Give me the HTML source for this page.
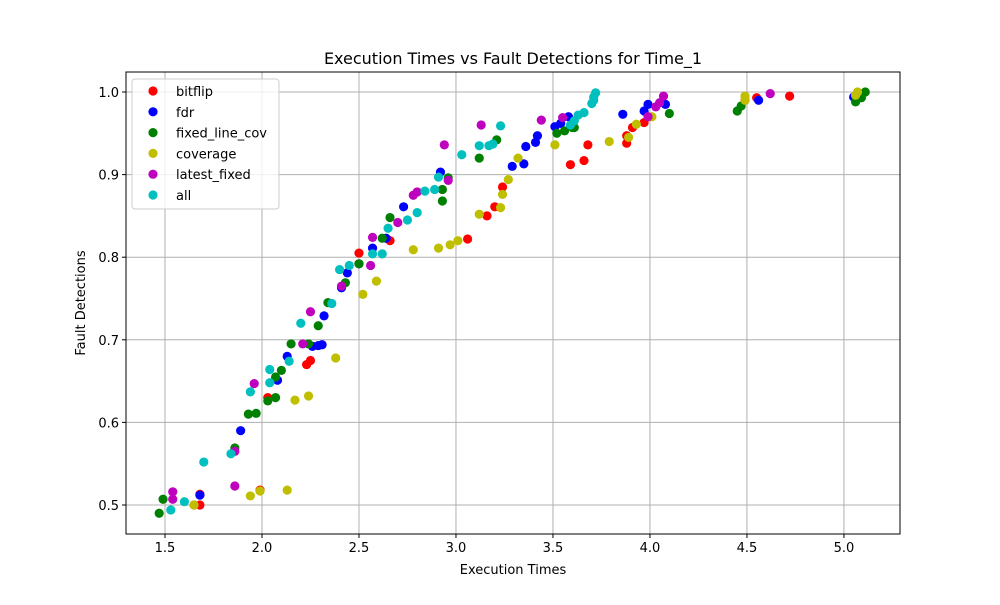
<!DOCTYPE html>
<html><head><meta charset="utf-8"><style>
body{margin:0;background:#fff;font-family:"Liberation Sans","DejaVu Sans",sans-serif;}
</style></head><body>
<svg id="chart" width="1000" height="600" viewBox="0 0 1000 600" xmlns="http://www.w3.org/2000/svg" font-family="DejaVu Sans, Liberation Sans, sans-serif">
<rect width="1000" height="600" fill="#fff"/>
<g id="grid"></g><g id="marks"></g><g id="axes"></g><g id="legend"></g>
</svg>
<script>
const xTicks=[1.5,2.0,2.5,3.0,3.5,4.0,4.5,5.0];
const yTicks=[0.5,0.6,0.7,0.8,0.9,1.0];
const seriesNames=["bitflip","fdr","fixed_line_cov","coverage","latest_fixed","all"];
const seriesColors=["#ff0000","#0000ff","#008000","#bfbf00","#bf00bf","#00bfbf"];
const bitflipX=[1.65,1.68,1.68,1.99,2.03,2.23,2.25,2.5,2.66,3.06,3.2,3.24,3.16,3.59,3.66,3.68,3.88,3.88,3.91,3.97,4.55,4.72,4.49];
const bitflipY=[0.5,0.5,0.513,0.518,0.63,0.67,0.675,0.805,0.82,0.822,0.861,0.885,0.85,0.912,0.917,0.936,0.938,0.947,0.957,0.963,0.993,0.995,0.99];
const fdrX=[1.68,1.89,2.08,2.13,2.26,2.29,2.31,2.32,2.41,2.44,2.57,2.64,2.73,2.92,3.29,3.35,3.36,3.41,3.42,3.51,3.54,3.58,3.86,3.97,3.99,4.08,4.56,5.05,2.5];
const fdrY=[0.512,0.59,0.651,0.68,0.692,0.693,0.694,0.729,0.763,0.781,0.811,0.823,0.861,0.903,0.91,0.913,0.934,0.939,0.947,0.958,0.962,0.97,0.973,0.977,0.985,0.985,0.99,0.994,0.792];
const fixedX=[1.47,1.49,1.86,1.93,1.97,2.03,2.07,2.07,2.1,2.15,2.24,2.29,2.34,2.43,2.5,2.62,2.66,2.93,2.93,2.96,3.12,3.21,3.52,3.56,3.6,3.61,4.1,4.45,4.47,5.06,5.09,5.11];
const fixedY=[0.49,0.507,0.569,0.61,0.611,0.626,0.63,0.655,0.663,0.695,0.695,0.717,0.745,0.769,0.792,0.823,0.848,0.868,0.882,0.896,0.92,0.942,0.95,0.953,0.957,0.957,0.974,0.977,0.983,0.988,0.993,1.0];
const coverageX=[1.65,1.94,1.99,2.13,2.17,2.24,2.38,2.52,2.59,2.78,2.91,2.97,3.01,3.12,3.23,3.24,3.27,3.32,3.51,3.79,3.89,3.93,4.01,4.49,5.07,5.06,4.49];
const coverageY=[0.5,0.511,0.517,0.518,0.627,0.632,0.678,0.755,0.771,0.809,0.811,0.815,0.82,0.852,0.86,0.876,0.894,0.92,0.936,0.94,0.945,0.961,0.97,0.995,1.0,0.996,0.99];
const latestX=[1.54,1.54,1.86,1.96,1.86,2.21,2.25,2.41,2.56,2.57,2.7,2.78,2.8,2.94,2.96,3.13,3.44,3.55,3.99,4.03,4.05,4.07,4.62];
const latestY=[0.516,0.507,0.523,0.647,0.565,0.695,0.734,0.765,0.79,0.824,0.842,0.875,0.879,0.936,0.893,0.96,0.966,0.969,0.97,0.982,0.987,0.995,0.998];
const allX=[1.53,1.6,1.7,1.84,1.94,2.04,2.04,2.14,2.2,2.36,2.4,2.45,2.57,2.62,2.65,2.75,2.8,2.84,2.89,2.91,3.03,3.12,3.17,3.19,3.23,3.59,3.61,3.63,3.66,3.7,3.71,3.71,3.72];
const allY=[0.494,0.504,0.552,0.562,0.637,0.648,0.664,0.674,0.72,0.744,0.785,0.79,0.804,0.804,0.835,0.845,0.854,0.88,0.882,0.897,0.924,0.935,0.935,0.937,0.959,0.96,0.965,0.972,0.975,0.986,0.99,0.994,0.999];
const seriesXs=[bitflipX,fdrX,fixedX,coverageX,latestX,allX];
const seriesYs=[bitflipY,fdrY,fixedY,coverageY,latestY,allY];

const NS="http://www.w3.org/2000/svg";
const L=126,R=900,T=72,B=534;
const X0=1.299,X1=5.289,Y0=0.4649,Y1=1.0242;
const sx=v=>L+(v-X0)/(X1-X0)*(R-L);
const sy=v=>B-(v-Y0)/(Y1-Y0)*(B-T);
function mk(tag,attrs,parent){const e=document.createElementNS(NS,tag);for(const k in attrs)e.setAttribute(k,attrs[k]);parent.appendChild(e);return e;}
const grid=document.getElementById('grid'),marks=document.getElementById('marks'),axes=document.getElementById('axes'),legend=document.getElementById('legend');
xTicks.forEach(t=>{
  const g=mk('line',{x1:sx(t),x2:sx(t),y1:T,y2:B,stroke:'#b0b0b0','stroke-width':1},grid);
  
  
  mk('line',{x1:sx(t),x2:sx(t),y1:B,y2:B+4,stroke:'#000'},axes);
  const tx=mk('text',{x:sx(t),y:B+18,'text-anchor':'middle','font-size':'13'},axes);
  tx.textContent=t.toFixed(1);
  
  
});
yTicks.forEach(t=>{
  const g=mk('line',{x1:L,x2:R,y1:sy(t),y2:sy(t),stroke:'#b0b0b0','stroke-width':1},grid);
  
  
  mk('line',{x1:L-4,x2:L,y1:sy(t),y2:sy(t),stroke:'#000'},axes);
  const tx=mk('text',{x:L-7,y:sy(t)+5,'text-anchor':'end','font-size':'13'},axes);
  tx.textContent=t.toFixed(1);
  
  
});
seriesNames.forEach((n,i)=>{
  seriesXs[i].forEach((xv,j)=>{
    const c=mk('circle',{cx:sx(xv),cy:sy(seriesYs[i][j]),r:4.6,fill:seriesColors[i]},marks);
    
    
  });
});
const frame=mk('rect',{x:L,y:T,width:R-L,height:B-T,fill:'none',stroke:'#000','stroke-width':1},axes);


const title=mk('text',{x:(L+R)/2,y:64,'text-anchor':'middle','font-size':'16'},axes);
title.textContent='Execution Times vs Fault Detections for Time_1';


const xt=mk('text',{x:(L+R)/2,y:574,'text-anchor':'middle','font-size':'13'},axes);
xt.textContent='Execution Times';


const yt=mk('text',{x:85,y:(T+B)/2,'text-anchor':'middle','font-size':'13',transform:'rotate(-90 85 '+((T+B)/2)+')'},axes);
yt.textContent='Fault Detections';


const lb=mk('rect',{x:132,y:79,width:147,height:130,rx:3,fill:'#fff','fill-opacity':0.8,stroke:'#ccc'},legend);


seriesNames.forEach((n,i)=>{
  const y=91+i*20.8;
  const g=mk('g',{},legend);
  
  
  mk('circle',{cx:153,cy:y,r:4.6,fill:seriesColors[i]},g);
  const t=mk('text',{x:176,y:y+5,'font-size':'13'},g);
  t.textContent=n;
});
</script>
</body></html>
